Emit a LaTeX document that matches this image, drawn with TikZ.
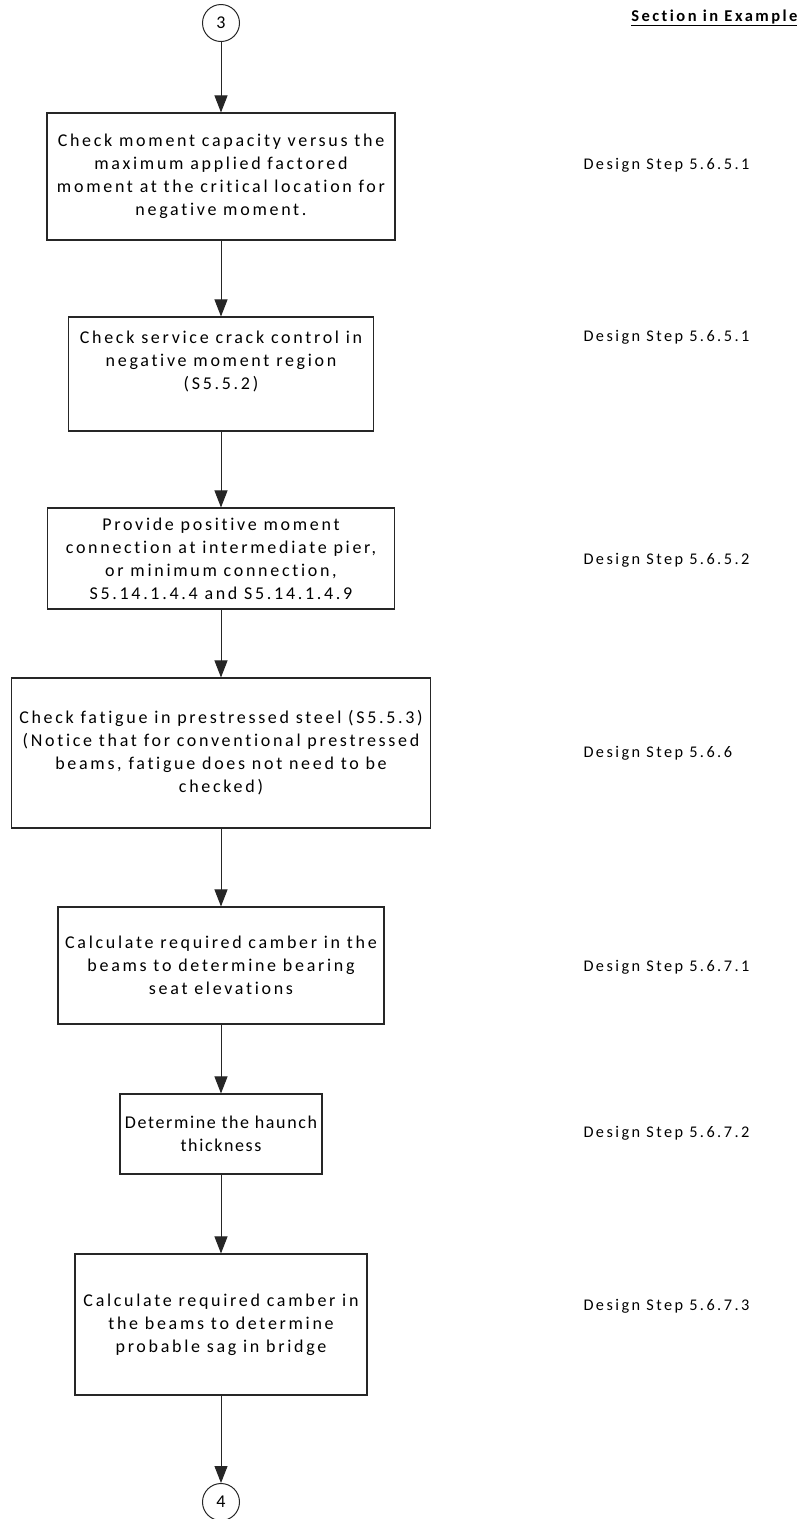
\documentclass[tikz,border=0pt]{standalone}
\usepackage{fontspec}
\setmainfont{Carlito}[LetterSpace=15,Ligatures=NoCommon,RawFeature=-liga]
\newfontfamily\narrowcarlito{Carlito}[LetterSpace=9,Ligatures=NoCommon,RawFeature=-liga]
\usetikzlibrary{arrows.meta}
\begin{document}
\begin{tikzpicture}[x=1pt,y=-1pt,
  font=\fontsize{18}{23}\selectfont,
  stepbox/.style={draw=black!85,line width=1.1pt,align=center,inner sep=2pt},
  boxtext/.style={align=center,inner sep=0pt},
  conn/.style={draw=black!85,line width=1pt,-{Triangle[length=17pt,width=13pt]}},
  ref/.style={anchor=west,font=\fontsize{16.3}{18}\selectfont},
  circ/.style={draw=black!85,line width=1pt,circle,minimum size=37pt,inner sep=0pt,font=\fontsize{18}{20}\selectfont}]
\useasboundingbox (0,0) rectangle (798,1519);
\node[circ] (c3) at (221,23) {3};
\node[anchor=east,font=\fontsize{16.5}{18}\selectfont\bfseries] (hdr) at (801,18) {\underline{Section in Example}};

\node[stepbox,minimum width=348pt,minimum height=127pt] (b1) at (221,176.5)
  {Check moment capacity versus the\\maximum applied factored\\moment at the critical location for\\negative moment.};
\node[stepbox,minimum width=305pt,minimum height=114pt] (b2) at (221,374) {};
\node[boxtext] (t2) at (221,361)
  {Check service crack control in\\negative moment region\\(S5.5.2)};
\node[stepbox,minimum width=347pt,minimum height=101pt] (b3) at (221,558.5)
  {Provide positive moment\\connection at intermediate pier,\\or minimum connection,\\S5.14.1.4.4 and S5.14.1.4.9};
\node[stepbox,minimum width=419pt,minimum height=150pt] (b4) at (221,753)
  {Check fatigue in prestressed steel (S5.5.3)\\(Notice that for conventional prestressed\\beams, fatigue does not need to be\\checked)};
\node[stepbox,minimum width=326pt,minimum height=117pt] (b5) at (221,965.5)
  {Calculate required camber in the\\beams to determine bearing\\seat elevations};
\node[stepbox,minimum width=202pt,minimum height=80pt] (b6) at (221,1134) {};
\node[boxtext,font=\narrowcarlito\fontsize{18}{23}\selectfont] (t6) at (221,1134)
  {Determine the haunch\\thickness};
\node[stepbox,minimum width=292pt,minimum height=141pt] (b7) at (221,1324.5)
  {Calculate required camber in\\the beams to determine\\probable sag in bridge};
\node[circ] (c4) at (221,1502) {4};

\draw[conn] (c3) -- (b1);
\draw[conn] (b1) -- (b2);
\draw[conn] (b2) -- (b3);
\draw[conn] (b3) -- (b4);
\draw[conn] (b4) -- (b5);
\draw[conn] (b5) -- (b6);
\draw[conn] (b6) -- (b7);
\draw[conn] (b7) -- (c4);

\node[ref] (r1) at (580,165) {Design Step 5.6.5.1};
\node[ref] (r2) at (580,337) {Design Step 5.6.5.1};
\node[ref] (r3) at (580,560) {Design Step 5.6.5.2};
\node[ref] (r4) at (580,753) {Design Step 5.6.6};
\node[ref] (r5) at (580,967) {Design Step 5.6.7.1};
\node[ref] (r6) at (580,1133) {Design Step 5.6.7.2};
\node[ref] (r7) at (580,1306) {Design Step 5.6.7.3};
\end{tikzpicture}
\end{document}
